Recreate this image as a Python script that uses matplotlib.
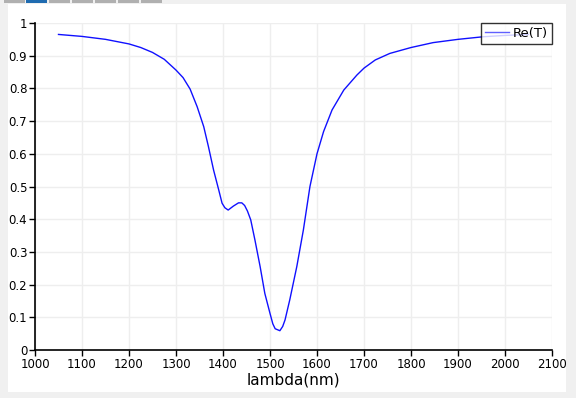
import matplotlib
matplotlib.use("Agg")
import matplotlib.pyplot as plt
from matplotlib.patches import Rectangle

# =============================
# DATA
# =============================
wavelength = [1050, 1100, 1150, 1200, 1225, 1250, 1275, 1300, 1315, 1330, 1345, 1359,
              1369, 1380, 1391, 1398, 1404, 1411, 1422, 1433, 1440, 1446, 1452,
              1459, 1468, 1479, 1489, 1500, 1506, 1511, 1521, 1527, 1532, 1542,
              1557, 1571, 1585, 1600, 1614, 1632, 1657, 1685, 1700, 1724, 1755,
              1800, 1847, 1900, 1954, 2000, 2050]
re_t = [0.965, 0.959, 0.950, 0.936, 0.925, 0.910, 0.889, 0.856, 0.833, 0.798, 0.744, 0.683,
        0.622, 0.550, 0.489, 0.449, 0.435, 0.428, 0.440, 0.450, 0.450, 0.442, 0.425,
        0.398, 0.336, 0.255, 0.173, 0.112, 0.080, 0.065, 0.059, 0.072, 0.092, 0.153,
        0.255, 0.367, 0.500, 0.600, 0.668, 0.734, 0.795, 0.841, 0.862, 0.887, 0.907,
        0.925, 0.940, 0.950, 0.958, 0.962, 0.965]

xticks = list(range(1000, 2101, 100))
yticks = [0, 0.1, 0.2, 0.3, 0.4, 0.5, 0.6, 0.7, 0.8, 0.9, 1]
ytick_labels = ["0", "0.1", "0.2", "0.3", "0.4", "0.5", "0.6", "0.7", "0.8", "0.9", "1"]

W, H = 576, 398

fig = plt.figure(figsize=(W / 100, H / 100), dpi=100)
fig.patch.set_facecolor("#f0f0f0")

# white panel + tab strip on top
fig.patches.append(Rectangle((8 / W, 6 / H), 558 / W, 388 / H,
                             transform=fig.transFigure, facecolor="white",
                             edgecolor="none", zorder=-10))
tab_x = [4, 26, 49, 72, 95, 118, 141]
for i, tx in enumerate(tab_x):
    col = "#1f6bb0" if i == 1 else "#b0b0b0"
    fig.patches.append(Rectangle((tx / W, 1 - 3 / H), 21 / W, 3 / H,
                                 transform=fig.transFigure, facecolor=col,
                                 edgecolor="none", zorder=-10))

ax = fig.add_axes([35 / W, 1 - 350 / H, 517 / W, 327 / H])
ax.set_zorder(5)
ax.set_facecolor("white")

ax.plot(wavelength, re_t, color="#1010ff", lw=1.0, label="Re(T)")

ax.set_xlim(1000, 2100)
ax.set_ylim(0, 1)
ax.set_xticks(xticks)
ax.set_yticks(yticks)
ax.set_yticklabels(ytick_labels)
ax.tick_params(labelsize=8.5, length=4, width=1, pad=1.5, colors="black")
ax.set_xlabel("lambda(nm)", fontsize=11, labelpad=1)

ax.grid(True, color="#eeeeee", lw=1)
ax.set_axisbelow(True)
for s in ["top", "right"]:
    ax.spines[s].set_visible(False)
for s in ["left", "bottom"]:
    ax.spines[s].set_linewidth(1.2)

leg = ax.legend(loc="upper right", bbox_to_anchor=(1.0, 1.0), fontsize=9.5,
                frameon=True, fancybox=False, handlelength=1.8,
                handletextpad=0.3, borderpad=0.3, borderaxespad=0.0)
leg.get_frame().set_edgecolor("black")
leg.get_frame().set_linewidth(1)
leg.legend_handles[0].set_color("#6060ff")

fig.savefig("out.png", dpi=100, facecolor=fig.get_facecolor())
